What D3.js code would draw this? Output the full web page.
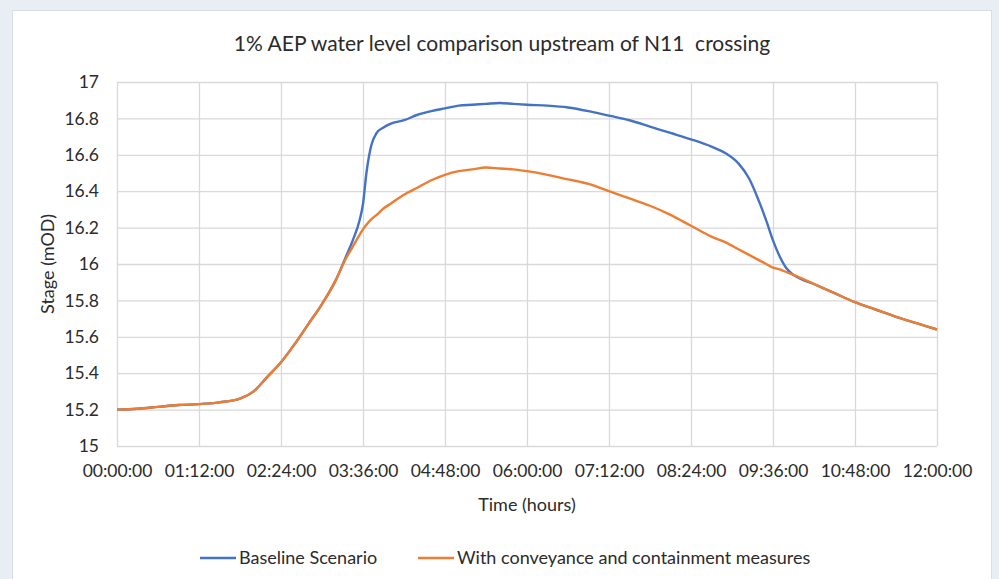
<!DOCTYPE html>
<html>
<head>
<meta charset="utf-8">
<script src="https://cdn.jsdelivr.net/npm/d3@7"></script>
<style>
  html, body { margin: 0; padding: 0; background: #e9eef4; }
  svg { display: block; }
  text { font-family: Lato, "Open Sans", sans-serif; fill: #2b2b2b; }
</style>
</head>
<body>
<script>
// time in hours from start of event
var timeHours = [0, 0.3, 0.6, 0.9, 1.2, 1.5, 1.8, 2.0, 2.2, 2.4, 2.6, 2.8, 3.0, 3.2, 3.35, 3.45, 3.55, 3.6, 3.65, 3.72,
  3.8, 3.9, 4.0, 4.2, 4.4, 4.6, 4.8, 5.0, 5.2, 5.4, 5.6, 5.8, 6.0, 6.3, 6.6, 6.9, 7.2, 7.5, 7.8, 8.1,
  8.4, 8.7, 8.9, 9.1, 9.25, 9.4, 9.5, 9.6, 9.7, 9.8, 9.9, 10.2, 10.5, 10.8, 11.1, 11.4, 11.7, 12.0];

var baseline = [15.20, 15.205, 15.215, 15.225, 15.23, 15.24, 15.26, 15.30, 15.38, 15.46, 15.56, 15.67, 15.78, 15.91, 16.04, 16.13, 16.24, 16.33, 16.50, 16.65,
  16.72, 16.75, 16.77, 16.79, 16.82, 16.84, 16.855, 16.87, 16.875, 16.88, 16.885, 16.88, 16.875, 16.87, 16.86, 16.84, 16.815, 16.79, 16.755, 16.72,
  16.685, 16.645, 16.61, 16.55, 16.47, 16.34, 16.24, 16.13, 16.04, 15.975, 15.94, 15.89, 15.84, 15.79, 15.75, 15.71, 15.675, 15.64];

var withMeasures = [15.20, 15.205, 15.215, 15.225, 15.23, 15.24, 15.26, 15.30, 15.38, 15.46, 15.56, 15.67, 15.78, 15.91, 16.03, 16.095, 16.16, 16.19, 16.215, 16.245,
  16.27, 16.305, 16.33, 16.38, 16.42, 16.46, 16.49, 16.51, 16.52, 16.53, 16.525, 16.52, 16.51, 16.49, 16.465, 16.44, 16.40, 16.36, 16.32, 16.27,
  16.21, 16.15, 16.12, 16.08, 16.05, 16.02, 16.00, 15.98, 15.97, 15.955, 15.94, 15.89, 15.84, 15.79, 15.75, 15.71, 15.675, 15.64];

var xTicks = [0, 1.2, 2.4, 3.6, 4.8, 6.0, 7.2, 8.4, 9.6, 10.8, 12.0];
var yTicks = [15, 15.2, 15.4, 15.6, 15.8, 16, 16.2, 16.4, 16.6, 16.8, 17];

var series = [
  { name: "Baseline Scenario", values: baseline, color: "#4472c4" },
  { name: "With conveyance and containment measures", values: withMeasures, color: "#ed7d31" }
];

var width = 999, height = 579;
var margin = { top: 82, right: 62, bottom: 133, left: 117 };
var innerW = width - margin.left - margin.right,
    innerH = height - margin.top - margin.bottom;

var svg = d3.select("body").append("svg")
    .attr("width", width)
    .attr("height", height);

// card
svg.append("rect")
    .attr("x", 12.5).attr("y", 10.5)
    .attr("width", 979).attr("height", 590)
    .attr("fill", "#fff")
    .attr("stroke", "#d9dee4");

svg.append("text")
    .attr("x", 502).attr("y", 51)
    .attr("text-anchor", "middle")
    .style("font-size", "21px")
    .text("1% AEP water level comparison upstream of N11\u00a0 crossing");

var g = svg.append("g")
    .attr("transform", "translate(" + margin.left + "," + margin.top + ")");

var x = d3.scaleLinear().domain([0, 12]).range([0, innerW]);
var y = d3.scaleLinear().domain([15, 17]).range([innerH, 0]);

function hms(h) {
  var mins = Math.round(h * 60);
  return d3.format("02")(Math.floor(mins / 60)) + ":" + d3.format("02")(mins % 60) + ":00";
}

// gridlines
g.append("g")
    .call(d3.axisLeft(y).tickValues(yTicks).tickSize(-innerW).tickFormat(""))
    .call(function(a) { a.select(".domain").remove(); })
    .selectAll("line").attr("stroke", "#d9d9d9").attr("stroke-width", 1.3);

g.append("g")
    .attr("transform", "translate(0," + innerH + ")")
    .call(d3.axisBottom(x).tickValues(xTicks).tickSize(-innerH).tickFormat(""))
    .call(function(a) { a.select(".domain").remove(); })
    .selectAll("line").attr("stroke", "#d9d9d9").attr("stroke-width", 1.3);

// tick labels
var yAxis = g.append("g")
    .call(d3.axisLeft(y).tickValues(yTicks).tickSize(0).tickPadding(18)
      .tickFormat(function(d) { return +d.toFixed(1); }));
yAxis.select(".domain").remove();
yAxis.selectAll("text").style("font-size", "17.5px").attr("fill", "#2b2b2b");

var xAxis = g.append("g")
    .attr("transform", "translate(0," + innerH + ")")
    .call(d3.axisBottom(x).tickValues(xTicks).tickSize(0).tickPadding(19).tickFormat(hms));
xAxis.select(".domain").remove();
xAxis.selectAll("text").style("font-size", "17.5px").attr("fill", "#2b2b2b");

svg.append("text")
    .attr("x", margin.left + innerW / 2).attr("y", 511)
    .attr("text-anchor", "middle")
    .style("font-size", "18px")
    .text("Time (hours)");

svg.append("text")
    .attr("transform", "translate(54," + (margin.top + innerH / 2) + ") rotate(-90)")
    .attr("text-anchor", "middle")
    .style("font-size", "18px")
    .text("Stage (mOD)");

var line = d3.line()
    .x(function(d, i) { return x(timeHours[i]); })
    .y(function(d) { return y(d); })
    .curve(d3.curveMonotoneX);

g.selectAll(".series")
    .data(series)
    .enter().append("path")
    .attr("fill", "none")
    .attr("stroke", function(d) { return d.color; })
    .attr("stroke-width", 2.4)
    .attr("stroke-linejoin", "round")
    .attr("d", function(d) { return line(d.values); });

// legend
var legendX = [200, 418];
var legend = svg.selectAll(".legend")
    .data(series)
    .enter().append("g")
    .attr("transform", function(d, i) { return "translate(" + legendX[i] + ",558)"; });

legend.append("line")
    .attr("x1", 0).attr("x2", 36)
    .attr("stroke", function(d) { return d.color; })
    .attr("stroke-width", 2.4);

legend.append("text")
    .attr("x", 39).attr("dy", "0.35em")
    .style("font-size", "18px")
    .text(function(d) { return d.name; });
</script>
</body>
</html>
